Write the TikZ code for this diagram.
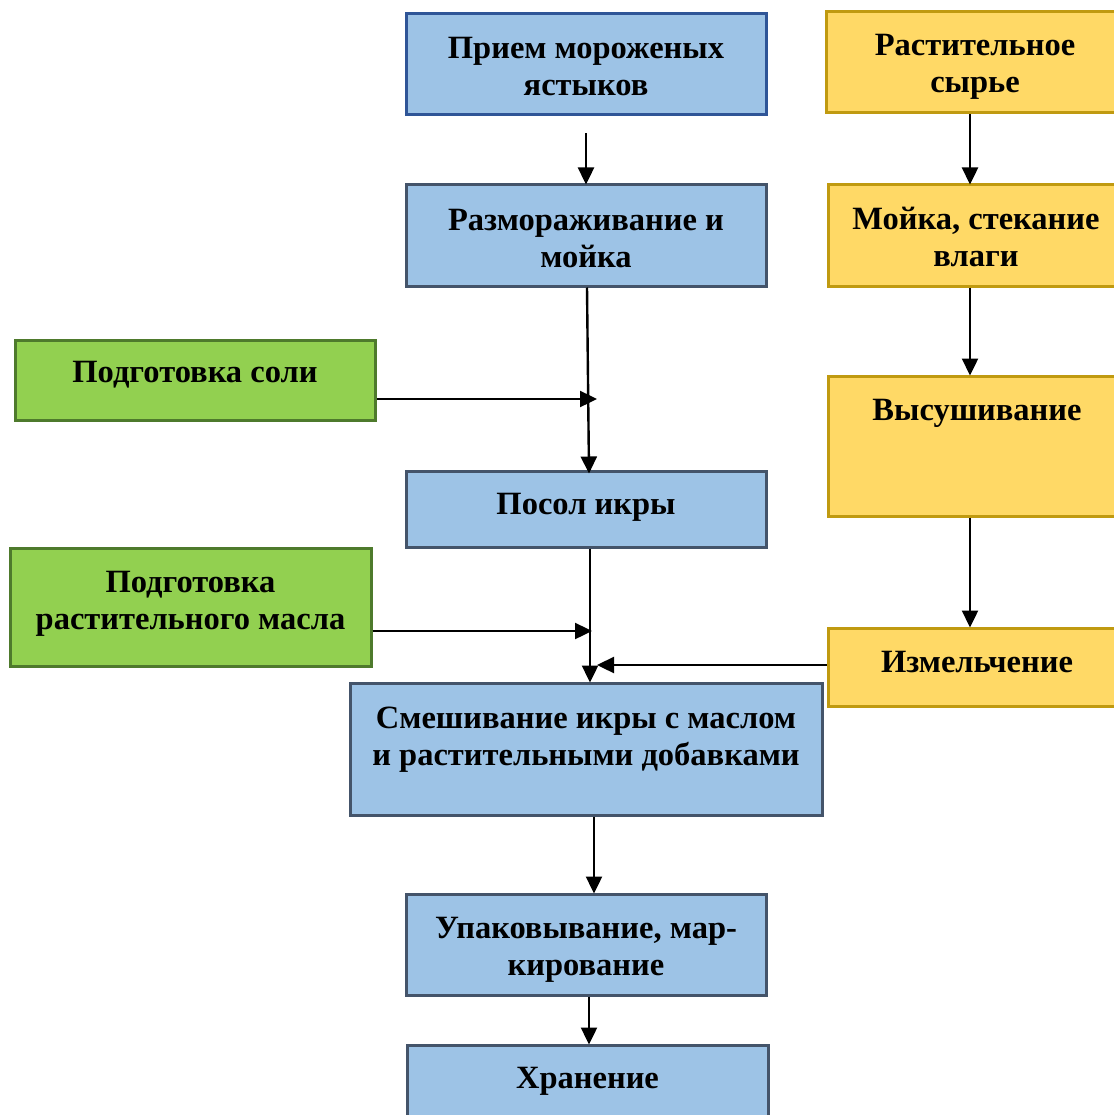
\documentclass[tikz,border=0pt]{standalone}
\usepackage{fontspec}
\setmainfont{Liberation Serif}
\usetikzlibrary{arrows.meta,calc}
\definecolor{bfill}{HTML}{9DC3E6}
\definecolor{bdraw}{HTML}{44546A}
\definecolor{bdrawA}{HTML}{2F5597}
\definecolor{gfill}{HTML}{92D050}
\definecolor{gdraw}{HTML}{4E7A2C}
\definecolor{yfill}{HTML}{FFD966}
\definecolor{ydraw}{HTML}{C09A10}
\tikzset{
  box/.style={rectangle, line width=3pt, inner sep=0pt},
  bluebox/.style={box, fill=bfill, draw=bdraw},
  greenbox/.style={box, fill=gfill, draw=gdraw},
  yellowbox/.style={box, fill=yfill, draw=ydraw},
  lbl/.style={anchor=base, align=center, inner sep=0pt, font=\fontsize{32.5}{37}\selectfont\bfseries},
  arr/.style={line width=2.4pt, -{Triangle[length=17pt,width=16pt]}}
}
\begin{document}
\begin{tikzpicture}[x=1pt,y=-1pt]
\useasboundingbox (0,0) rectangle (1113,1115);
% boxes
\node[bluebox, draw=bdrawA, minimum width=360pt, minimum height=101pt] (b1) at (586,64.5) {};
\node[bluebox, minimum width=360pt, minimum height=101pt] (b2) at (586,235.5) {};
\node[greenbox, minimum width=360pt, minimum height=80pt] (g1) at (195,380) {};
\node[bluebox, minimum width=360pt, minimum height=76pt] (b3) at (586,509) {};
\node[greenbox, minimum width=361pt, minimum height=118pt] (g2) at (190.5,607) {};
\node[bluebox, minimum width=472pt, minimum height=132pt] (b4) at (586,749) {};
\node[bluebox, minimum width=360pt, minimum height=101pt] (b5) at (586,944.5) {};
\node[bluebox, minimum width=361pt, minimum height=80pt] (b6) at (587.5,1085) {};
\node[yellowbox, minimum width=298pt, minimum height=101pt] (y1) at (975,62.5) {};
\node[yellowbox, minimum width=296pt, minimum height=101pt] (y2) at (976,235.5) {};
\node[yellowbox, minimum width=296pt, minimum height=140pt] (y3) at (976,446) {};
\node[yellowbox, minimum width=296pt, minimum height=78pt] (y4) at (976,667) {};
% labels (base = baseline of last line)
\node[lbl] (t1) at (586,96) {Прием мороженых\\ястыков};
\node[lbl] (t2) at (586,267) {Размораживание и\\мойка};
\node[lbl] (t3) at (195,382) {Подготовка соли};
\node[lbl] (t4) at (586,514) {Посол икры};
\node[lbl] (t5) at (190.5,629) {Подготовка\\растительного масла};
\node[lbl] (t6) at (586,765) {Смешивание икры с маслом\\и растительными добавками};
\node[lbl] (t7) at (586,975) {Упаковывание, мар-\\кирование};
\node[lbl] (t8) at (587.5,1088) {Хранение};
\node[lbl] (t9) at (975,93) {Растительное\\сырье};
\node[lbl] (t10) at (976,266) {Мойка, стекание\\влаги};
\node[lbl] (t11) at (977,420) {Высушивание};
\node[lbl] (t12) at (977,672) {Измельчение};
% junction coordinates
\coordinate (j1) at (597,399);
\coordinate (j2) at (592,631);
\coordinate (j3) at (597,665);
% connectors
\draw[arr, shorten <=17pt] (b1.south) -- ([yshift=-1pt]b2.north);
\draw[arr] ([xshift=1pt]b2.south) -- ([xshift=3pt,yshift=-4pt]b3.north);
\draw[arr] (g1.east |- j1) -- (j1);
\draw[arr] (g2.east |- j2) -- (j2);
\draw[arr] ([xshift=4pt]b3.south) -- ([xshift=4pt,yshift=-1pt]b4.north);
\draw[arr] (y4.west |- j3) -- (j3);
\draw[arr] ([xshift=8pt]b4.south) -- ([xshift=8pt,yshift=-1pt]b5.north);
\draw[arr] ([xshift=3pt]b5.south) -- ([xshift=1.5pt,yshift=-1pt]b6.north);
\draw[arr] ([xshift=-5pt]y1.south) -- ([xshift=-6pt,yshift=-1pt]y2.north);
\draw[arr] ([xshift=-6pt]y2.south) -- ([xshift=-6pt,yshift=-1pt]y3.north);
\draw[arr] ([xshift=-6pt]y3.south) -- ([xshift=-6pt,yshift=-1pt]y4.north);
\end{tikzpicture}
\end{document}
